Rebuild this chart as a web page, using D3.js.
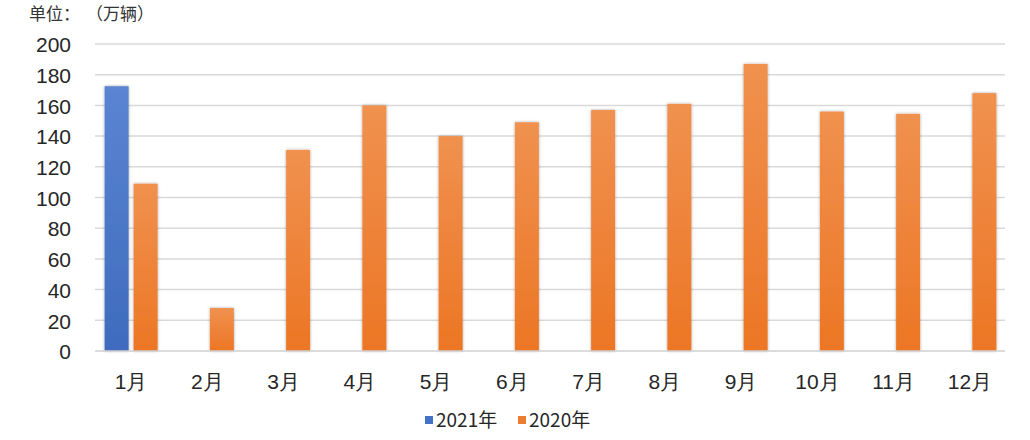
<!DOCTYPE html>
<html><head><meta charset="utf-8">
<script src="https://cdn.jsdelivr.net/npm/d3@7"></script>
<style>
body{margin:0;background:#fff;}
svg{display:block;font-family:"Noto Sans CJK SC","Liberation Sans",sans-serif;text-spacing-trim:space-all;}
</style></head>
<body><svg id="c" width="1030" height="440"></svg>
<script>
const categories = ["1月","2月","3月","4月","5月","6月","7月","8月","9月","10月","11月","12月"];
const series2021 = [172.5,null,null,null,null,null,null,null,null,null,null,null];
const series2020 = [109,28,131,160,140,149,157,161,187,156,154.5,168];
const yTicks = [0,20,40,60,80,100,120,140,160,180,200];
const seriesNames = ["2021年","2020年"];
const unitLabel = ["单位：","（万辆）"];

(function(){
const svg = d3.select("#c");
const defs = svg.append("defs");
function grad(id, c1, c2){
  const g = defs.append("linearGradient").attr("id",id).attr("x1",0).attr("y1",0).attr("x2",0).attr("y2",1);
  g.append("stop").attr("offset","0%").attr("stop-color",c1);
  g.append("stop").attr("offset","100%").attr("stop-color",c2);
}
grad("gBlue","#5B85D2","#3F6BBE");
grad("gOrange","#F0914F","#EC7624");
const f = defs.append("filter").attr("id","sh").attr("x","-20%").attr("y","-5%").attr("width","140%").attr("height","110%");
f.append("feGaussianBlur").attr("in","SourceAlpha").attr("stdDeviation",1.5).attr("result","b");
f.append("feComponentTransfer").attr("in","b").attr("result","o2").append("feFuncA").attr("type","linear").attr("slope",0.35);
const m = f.append("feMerge"); m.append("feMergeNode").attr("in","o2"); m.append("feMergeNode").attr("in","SourceGraphic");

const pLeft = 93, pRight = 1008, pTop = 44, pBottom = 351;
const x = d3.scaleBand().domain(categories).range([pLeft,pRight]).paddingInner(0).paddingOuter(0);
const y = d3.scaleLinear().domain([0,200]).range([pBottom,pTop]);

svg.append("g").selectAll("line").data(yTicks.filter(d=>d>0)).join("line")
  .attr("x1",95).attr("x2",1005).attr("y1",d=>y(d)).attr("y2",d=>y(d))
  .attr("stroke","#d9d9d9").attr("stroke-width",1.5);

const yAxis = d3.axisLeft(y).tickValues(yTicks).tickSize(0).tickPadding(0);
const ya = svg.append("g").attr("transform","translate(71,1)").call(yAxis);
ya.select(".domain").remove();
ya.selectAll("text").attr("font-size",21).attr("fill","#262626").attr("font-family","'Liberation Sans',Arial,sans-serif");

const bw = 24, gap = 5;
svg.append("g").selectAll("rect").data(series2021.map((v,i)=>({v,c:categories[i]})).filter(d=>d.v!=null)).join("rect")
  .attr("x",d=>x(d.c)+x.bandwidth()/2 - gap/2 - bw).attr("width",bw)
  .attr("y",d=>y(d.v)).attr("height",d=>y(0)-y(d.v))
  .attr("fill","url(#gBlue)").attr("filter","url(#sh)");
svg.append("g").selectAll("rect").data(series2020.map((v,i)=>({v,c:categories[i]}))).join("rect")
  .attr("x",d=>x(d.c)+x.bandwidth()/2 + gap/2).attr("width",bw)
  .attr("y",d=>y(d.v)).attr("height",d=>y(0)-y(d.v))
  .attr("fill","url(#gOrange)").attr("filter","url(#sh)");

svg.append("line").attr("x1",95).attr("x2",1005).attr("y1",y(0)).attr("y2",y(0)).attr("stroke","#d0d0d0").attr("stroke-width",1.5);

const xAxis = d3.axisBottom(x).tickSize(0).tickPadding(0);
const xa = svg.append("g").call(xAxis);
xa.select(".domain").remove();
xa.selectAll("text").attr("font-size",21).attr("fill","#262626").attr("y",389).attr("dy",null);

const ul = svg.append("g").attr("font-size",17).attr("fill","#333");
ul.append("text").attr("x",29).attr("y",20).text(unitLabel[0]);
ul.append("text").attr("x",86).attr("y",20).text(unitLabel[1]);

const lg = svg.append("g").attr("transform","translate(425,420)");
const colors = ["#4472C4","#ED7D31"];
const offs = [0,93];
seriesNames.forEach((n,i)=>{
  lg.append("rect").attr("x",offs[i]).attr("y",-4).attr("width",8).attr("height",8).attr("fill",colors[i]);
  lg.append("text").attr("x",offs[i]+11).attr("y",0).attr("dy","0.36em").attr("font-size",19).attr("fill","#262626").text(n);
});
})();
</script></body></html>
